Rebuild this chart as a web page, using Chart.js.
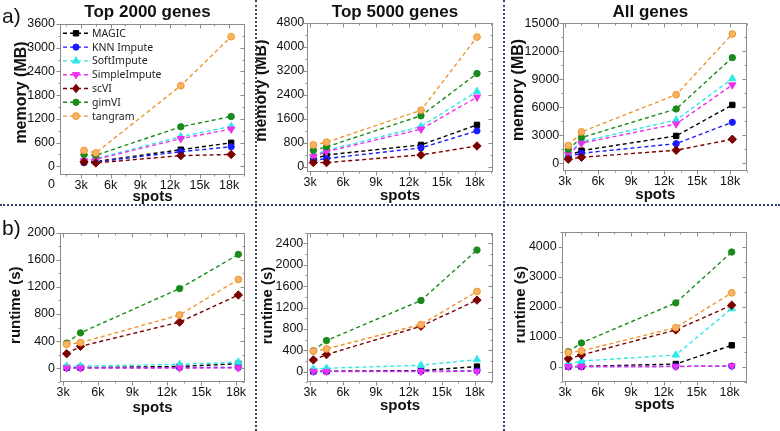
<!DOCTYPE html>
<html>
<head>
<meta charset="utf-8">
<script src="https://cdn.jsdelivr.net/npm/chart.js@4.4.0/dist/chart.umd.min.js"></script>
<style>
  body { margin: 0; background: #fff; width: 780px; height: 431px; position: relative; overflow: hidden; }
  canvas { position: absolute; }
  .sep { position: absolute; border: 0 dotted #34456b; }
</style>
</head>
<body>
<canvas id="p1"></canvas>
<canvas id="p2"></canvas>
<canvas id="p3"></canvas>
<canvas id="p4"></canvas>
<canvas id="p5"></canvas>
<canvas id="p6"></canvas>
<div class="sep" style="left:0;top:204px;width:780px;border-top-width:2px"></div>
<div class="sep" style="left:255px;top:0;height:431px;border-left-width:2px"></div>
<div class="sep" style="left:503px;top:0;height:431px;border-left-width:2px"></div>
<script>
// number of spots in each dataset (x values)
const spots = [3300, 4500, 13100, 18200];
const xTicks = [3000, 6000, 9000, 12000, 15000, 18000];
const methods = ['MAGIC', 'KNN Impute', 'SoftImpute', 'SimpleImpute', 'scVI', 'gimVI', 'tangram'];

// memory (MB), one row per method
const memTop2000 = [
  [105, 120, 420, 595],
  [95, 110, 370, 495],
  [150, 190, 750, 1010],
  [140, 175, 700, 940],
  [110, 85, 270, 300],
  [295, 280, 1000, 1260],
  [400, 340, 2040, 3280]
];
const memTop5000 = [
  [240, 390, 725, 1395],
  [200, 270, 625, 1195],
  [380, 540, 1340, 2510],
  [335, 500, 1250, 2320],
  [135, 135, 390, 690],
  [540, 660, 1700, 3110],
  [725, 815, 1885, 4330]
];
const memAll = [
  [800, 1350, 2930, 6250],
  [650, 1070, 2100, 4390],
  [1100, 2300, 4640, 9070],
  [950, 2150, 4210, 8390],
  [430, 640, 1390, 2570],
  [1480, 2750, 5820, 11320],
  [1890, 3360, 7350, 13850]
];
// runtime (s), one row per method
const rtTop2000 = [
  [5, 8, 25, 65],
  [3, 4, 8, 10],
  [30, 30, 55, 90],
  [2, 2, 3, 4],
  [213, 322, 680, 1080],
  [370, 521, 1175, 1680],
  [352, 377, 785, 1310]
];
const rtTop5000 = [
  [5, 8, 19, 94],
  [3, 4, 8, 12],
  [50, 63, 119, 225],
  [2, 2, 3, 4],
  [219, 319, 850, 1338],
  [390, 581, 1331, 2275],
  [382, 425, 881, 1500]
];
const rtAll = [
  [5, 8, 90, 713],
  [3, 5, 10, 20],
  [89, 189, 390, 1938],
  [3, 4, 5, 22],
  [267, 390, 1225, 2050],
  [500, 791, 2128, 3821],
  [468, 524, 1303, 2462]
];

// styles
const lineColors = ['#000000', '#1a1aff', '#2ee8e8', '#f030f0', '#7a0000', '#1a8a1a', '#f0962e'];
const fillColors = ['#000000', '#1a1aff', '#2ee8e8', '#f030f0', '#7a0000', '#1a8a1a', '#f7b264'];
const markers = [['rect', 3.8, 0], ['circle', 3.1, 0], ['triangle', 4.2, 0], ['triangle', 4.2, 180], ['rectRot', 4.2, 0], ['circle', 3.2, 0], ['circle', 3.4, 0]];

const FONT = "'Liberation Sans', Arial, sans-serif";

function makeDatasets(values) {
  return methods.map((name, i) => ({
    label: name,
    data: spots.map((s, j) => ({ x: s, y: values[i][j] })),
    borderColor: lineColors[i],
    backgroundColor: fillColors[i],
    pointBackgroundColor: fillColors[i],
    pointBorderColor: lineColors[i],
    pointBorderWidth: 1,
    borderDash: [4, 3],
    borderWidth: 1.4,
    pointStyle: markers[i][0],
    pointRadius: markers[i][1],
    pointRotation: markers[i][2],
    order: methods.length - i,
    tension: 0,
    clip: false
  }));
}

function drawMarker(ctx, style, r, rot, x, y, fill, stroke) {
  ctx.save();
  ctx.translate(x, y);
  ctx.rotate(rot * Math.PI / 180);
  ctx.beginPath();
  if (style === 'circle') {
    ctx.arc(0, 0, r, 0, Math.PI * 2);
  } else if (style === 'rect') {
    const s = r * Math.SQRT1_2;
    ctx.rect(-s, -s, 2 * s, 2 * s);
  } else if (style === 'rectRot') {
    ctx.moveTo(0, -r); ctx.lineTo(r * 0.8, 0); ctx.lineTo(0, r); ctx.lineTo(-r * 0.8, 0);
  } else if (style === 'triangle') {
    for (let k = 0; k < 3; k++) {
      const a = k * 2 * Math.PI / 3;
      const px = Math.sin(a) * r, py = -Math.cos(a) * r;
      if (k === 0) ctx.moveTo(px, py); else ctx.lineTo(px, py);
    }
  }
  ctx.closePath();
  ctx.fillStyle = fill; ctx.fill();
  ctx.strokeStyle = stroke; ctx.lineWidth = 1; ctx.stroke();
  ctx.restore();
}

function tickList(min, max, step) {
  const out = [];
  const h = step / 2;
  for (let v = Math.ceil(min / h) * h; v <= max + 1e-9; v += h) out.push({ v, major: Math.abs(v % step) < 1e-9 });
  return out;
}

const frame = {
  id: 'frame',
  afterDraw(chart, args, o) {
    const ctx = chart.ctx, a = chart.chartArea, xs = chart.scales.x, ys = chart.scales.y;
    ctx.save();
    ctx.strokeStyle = '#8c8c8c';
    ctx.lineWidth = 1;
    const L = Math.round(a.left) + 0.5, R = Math.round(a.right) - 0.5, T = Math.round(a.top) + 0.5, B = Math.round(a.bottom) - 0.5;
    ctx.strokeRect(L, T, R - L, B - T);
    ctx.beginPath();
    tickList(ys.min, ys.max, o.yStep).forEach(t => {
      const p = Math.round(ys.getPixelForValue(t.v)) + 0.5;
      const len = t.major ? 4 : 2;
      ctx.moveTo(L - len, p); ctx.lineTo(L, p);
      ctx.moveTo(R, p); ctx.lineTo(R - len, p);
    });
    tickList(xs.min, xs.max, 3000).forEach(t => {
      const p = Math.round(xs.getPixelForValue(t.v)) + 0.5;
      const len = t.major ? 4 : 2;
      ctx.moveTo(p, B); ctx.lineTo(p, B + len);
      ctx.moveTo(p, T); ctx.lineTo(p, T + len);
    });
    ctx.stroke();

    const ox = o.origin[0], oy = o.origin[1];
    ctx.fillStyle = '#111';
    if (o.title) {
      ctx.font = 'bold 17px ' + FONT;
      ctx.textAlign = 'center';
      ctx.textBaseline = 'alphabetic';
      ctx.fillText(o.title, (a.left + a.right) / 2 - 5, 17 - oy);
    }
    ctx.font = 'bold 15px ' + FONT;
    ctx.textAlign = 'center';
    ctx.textBaseline = 'alphabetic';
    ctx.fillText('spots', (a.left + a.right) / 2, o.xTitleY - oy);
    ctx.save();
    ctx.font = 'bold ' + o.yTitleSize + 'px ' + FONT;
    ctx.translate(o.yTitleX - ox, (a.top + a.bottom) / 2 - o.yTitleShift);
    ctx.rotate(-Math.PI / 2);
    ctx.textBaseline = 'middle';
    ctx.fillText(o.yTitle, 0, 0);
    ctx.restore();
    if (o.tag) {
      ctx.font = '21px ' + FONT;
      ctx.textAlign = 'left';
      ctx.textBaseline = 'alphabetic';
      ctx.fillText(o.tag, 2, o.tagY - oy);
    }
    // stray "0" label left of the first panel's x axis
    if (o.zeroLabel) {
      ctx.font = '12.5px ' + FONT;
      ctx.textAlign = 'center';
      ctx.textBaseline = 'top';
      ctx.fillText('0', xs.getPixelForValue(0), a.bottom + 3);
    }
    if (o.legend) {
      ctx.font = "10.5px 'Noto Sans', sans-serif";
      ctx.textAlign = 'left';
      ctx.textBaseline = 'middle';
      methods.forEach((name, i) => {
        const y = 33.3 + 13.8 * i;
        ctx.save();
        ctx.strokeStyle = lineColors[i];
        ctx.lineWidth = 1.4;
        ctx.setLineDash([4, 3]);
        ctx.beginPath(); ctx.moveTo(63, y); ctx.lineTo(89, y); ctx.stroke();
        ctx.restore();
        drawMarker(ctx, markers[i][0], markers[i][1], markers[i][2], 76, y, fillColors[i], lineColors[i]);
        ctx.fillStyle = '#222';
        ctx.fillText(name, 92, y + 0.5);
      });
    }
    ctx.restore();
  }
};

const panels = [
  { id: 'p1', box: [0, 0, 256, 205], area: [60, 24, 245, 175], values: memTop2000, yMin: -220, yMax: 3600, yStep: 600, xMin: 870, xMax: 19600, yPad: 5,
    title: 'Top 2000 genes', yTitle: 'memory (MB)', yTitleSize: 16, yTitleX: 22, yTitleShift: 7, xTitleY: 201, tag: 'a)', tagY: 23, legend: true, zeroLabel: true },
  { id: 'p2', box: [256, 0, 248, 205], area: [307.3, 23, 492.7, 172.3], values: memTop5000, yMin: -190, yMax: 4800, yStep: 800, xMin: 2750, xMax: 19630, yPad: 3,
    title: 'Top 5000 genes', yTitle: 'memory (MB)', yTitleSize: 16, yTitleX: 262, yTitleShift: 7, xTitleY: 200 },
  { id: 'p3', box: [504, 0, 276, 205], area: [563.3, 23.3, 747.3, 170.7], values: memAll, yMin: -800, yMax: 15000, yStep: 3000, xMin: 2850, xMax: 19560, yPad: 4,
    title: 'All genes', yTitle: 'memory (MB)', yTitleSize: 16, yTitleX: 519, yTitleShift: 7, xTitleY: 199 },
  { id: 'p4', box: [0, 206, 256, 225], area: [60, 232.7, 245, 381.7], values: rtTop2000, yMin: -200, yMax: 2000, yStep: 400, xMin: 2720, xMax: 18780, yPad: 5,
    yTitle: 'runtime (s)', yTitleSize: 15, yTitleX: 16, yTitleShift: 2, xTitleY: 412, tag: 'b)', tagY: 235 },
  { id: 'p5', box: [256, 206, 248, 225], area: [307.3, 232.7, 492.7, 382.3], values: rtTop5000, yMin: -200, yMax: 2600, yStep: 400, xMin: 2750, xMax: 19630, yPad: 4,
    yTitle: 'runtime (s)', yTitleSize: 15, yTitleX: 268, yTitleShift: 2, xTitleY: 410 },
  { id: 'p6', box: [504, 206, 276, 225], area: [561.7, 231.7, 747.3, 381.7], values: rtAll, yMin: -500, yMax: 4500, yStep: 1000, xMin: 2700, xMax: 19620, yPad: 5,
    yTitle: 'runtime (s)', yTitleSize: 15, yTitleX: 521, yTitleShift: 2, xTitleY: 409 }
];

const tickFont = { family: FONT, size: 12.5 };

panels.forEach(p => {
  const cv = document.getElementById(p.id);
  const [bx, by, bw, bh] = p.box;
  cv.width = bw; cv.height = bh;
  cv.style.left = bx + 'px'; cv.style.top = by + 'px';
  cv.style.width = bw + 'px'; cv.style.height = bh + 'px';
  const leftW = p.area[0] - bx;
  const topPad = p.area[1] - by;
  const rightPad = bx + bw - p.area[2];
  const bottomH = by + bh - p.area[3];
  const yTicks = [];
  for (let v = 0; v <= p.yMax; v += p.yStep) yTicks.push(v);

  new Chart(cv, {
    type: 'line',
    data: { datasets: makeDatasets(p.values) },
    options: {
      responsive: false,
      animation: false,
      devicePixelRatio: 1,
      layout: { padding: { top: topPad, right: rightPad, left: 0, bottom: 0 } },
      plugins: {
        legend: { display: false },
        tooltip: { enabled: false },
        frame: {
          origin: [bx, by], yStep: p.yStep, title: p.title, yTitle: p.yTitle, yTitleSize: p.yTitleSize,
          yTitleX: p.yTitleX, yTitleShift: p.yTitleShift, xTitleY: p.xTitleY, tag: p.tag, tagY: p.tagY,
          legend: p.legend, zeroLabel: p.zeroLabel
        }
      },
      scales: {
        x: {
          type: 'linear', min: p.xMin, max: p.xMax,
          grid: { display: false, drawTicks: false },
          border: { display: false },
          ticks: { font: tickFont, color: '#111', padding: 3, maxRotation: 0, autoSkip: false,
                   callback: v => (v / 1000) + 'k' },
          afterBuildTicks: s => { s.ticks = xTicks.map(v => ({ value: v })); },
          afterFit: s => { s.height = bottomH; }
        },
        y: {
          min: p.yMin, max: p.yMax,
          grid: { display: false, drawTicks: false },
          border: { display: false },
          ticks: { font: tickFont, color: '#111', padding: p.yPad, autoSkip: false,
                   callback: v => String(v) },
          afterBuildTicks: s => { s.ticks = yTicks.map(v => ({ value: v })); },
          afterFit: s => { s.width = leftW; }
        }
      }
    },
    plugins: [frame]
  });
});
</script>
</body>
</html>
